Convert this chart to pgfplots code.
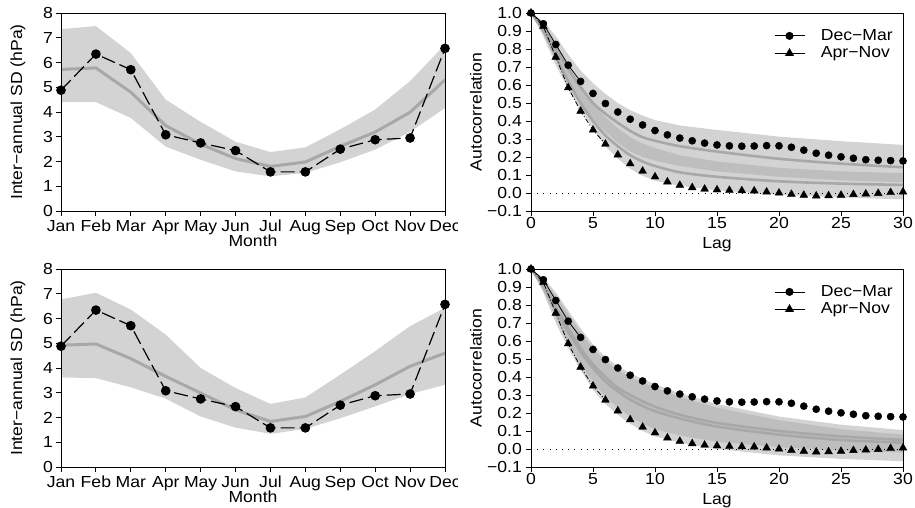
\documentclass[border=0pt]{standalone}
\usepackage{pgfplots}
\pgfplotsset{compat=1.18}
\usepackage{pgfplotstable}
\usepackage{fontspec}
\setmainfont{Liberation Sans}[FakeStretch=1.1]
\definecolor{bandlight}{RGB}{211,211,211}
\definecolor{bandmed}{RGB}{190,190,190}
\definecolor{meanline}{RGB}{168,168,168}
\newcommand{\chartfont}{\fontsize{16pt}{18pt}\selectfont}

\pgfplotstableread{
m M O
1 5.72 4.88
2 5.78 6.34
3 4.80 5.71
4 3.45 3.08
5 2.70 2.75
6 2.12 2.44
7 1.80 1.58
8 1.98 1.58
9 2.61 2.50
10 3.19 2.88
11 3.99 2.95
12 5.30 6.57
}\tabTL

\pgfplotstableread{
m M O
1 4.92 4.88
2 4.97 6.34
3 4.38 5.71
4 3.66 3.08
5 2.99 2.75
6 2.31 2.44
7 1.84 1.58
8 2.04 1.58
9 2.65 2.50
10 3.32 2.88
11 4.07 2.95
12 4.60 6.57
}\tabBL

\pgfplotstableread{
lag DM AN
0 1.000 1.000
1 0.940 0.925
2 0.825 0.755
3 0.710 0.585
4 0.620 0.455
5 0.553 0.350
6 0.497 0.272
7 0.450 0.212
8 0.410 0.163
9 0.378 0.122
10 0.347 0.090
11 0.323 0.062
12 0.305 0.043
13 0.290 0.030
14 0.277 0.022
15 0.267 0.018
16 0.262 0.015
17 0.260 0.013
18 0.261 0.012
19 0.263 0.006
20 0.262 0.000
21 0.254 -0.007
22 0.238 -0.012
23 0.221 -0.016
24 0.210 -0.015
25 0.201 -0.012
26 0.193 -0.008
27 0.185 -0.005
28 0.182 -0.002
29 0.180 0.003
30 0.178 0.006
}\tabObs

\pgfplotstableread{
lag M1 M2
0 1 1
1 0.92 0.90
2 0.80 0.76
3 0.69 0.62
4 0.59 0.50
5 0.50 0.40
6 0.44 0.32
7 0.39 0.26
8 0.345 0.21
9 0.31 0.175
10 0.29 0.15
12 0.26 0.115
15 0.23 0.09
20 0.19 0.065
25 0.163 0.052
30 0.143 0.045
}\tabTR

\pgfplotstableread{
lag M1 M2
0 1 1
1 0.91 0.90
2 0.79 0.77
3 0.67 0.65
4 0.56 0.54
5 0.47 0.45
6 0.40 0.375
7 0.34 0.32
8 0.30 0.275
9 0.265 0.24
10 0.235 0.21
12 0.19 0.17
15 0.145 0.125
20 0.10 0.08
25 0.07 0.05
30 0.05 0.035
}\tabBR

\pgfplotsset{
  panel/.style={
    scale only axis, anchor=south west,
    axis on top, font=\chartfont,
    axis line style={line width=0.9pt},
    every tick/.style={black, line width=0.9pt},
    tick pos=left, tick align=outside, major tick length=5pt,
    xticklabel style={inner sep=0pt, anchor=north, yshift=-4pt, font=\chartfont},
    yticklabel style={inner sep=0pt, anchor=east, xshift=-3pt, font=\chartfont},
    xlabel style={inner sep=0pt, anchor=north, at={(axis description cs:0.5,0)}, yshift=-24pt, font=\chartfont},
  },
  leftpanel/.style={panel, width=384pt, height=198pt,
    xmin=1, xmax=12, ymin=0, ymax=8, clip=false,
    xtick={1,2,3,4,5,6,7,8,9,10,11,12},
    xticklabels={Jan,Feb,Mar,Apr,May,Jun,Jul,Aug,Sep,Oct,Nov,Dec},
    ytick={0,1,2,3,4,5,6,7,8}, yticklabels={0,1,2,3,4,5,6,7,8},
    xlabel={Month}, ylabel={Inter−annual SD (hPa)},
    ylabel style={inner sep=0pt, anchor=center, at={(axis description cs:-0.112,0.5)}, font=\chartfont},
  },
  rightpanel/.style={panel, width=372pt, height=198pt,
    xmin=0, xmax=30, ymin=-0.1, ymax=1.0,
    xtick={0,5,10,15,20,25,30}, xticklabels={0,5,10,15,20,25,30},
    ytick={-0.1,0,0.1,0.2,0.3,0.4,0.5,0.6,0.7,0.8,0.9,1},
    yticklabels={−0.1,0.0,0.1,0.2,0.3,0.4,0.5,0.6,0.7,0.8,0.9,1.0},
    xticklabel style={yshift=3pt},
    yticklabel style={xshift=-1pt},
    xlabel style={yshift=-2pt},
    xlabel={Lag}, ylabel={Autocorrelation},
    ylabel style={inner sep=0pt, anchor=center, at={(axis description cs:-0.148,0.5)}, font=\chartfont},
    legend style={draw=none, fill=none, at={(axis description cs:1,1)}, anchor=north east,
      xshift=-8pt, yshift=-14pt, row sep=0pt, inner sep=0pt, font=\chartfont,
      /tikz/every odd column/.append style={column sep=14pt}},
    legend cell align=left,
    legend image code/.code={\draw[mark repeat=2,mark phase=2,#1] plot coordinates {(0pt,0pt) (15pt,0pt) (30pt,0pt)};},
  },
}

\newcommand{\leftcontent}[2]{%
  \addplot[fill=bandlight, draw=none, forget plot] coordinates {#2} -- cycle;
  \addplot[meanline, line width=3pt, forget plot] table[x=m,y=M]{#1};
  \addplot[black, line width=1.2pt, dash pattern=on 14pt off 5pt, mark=*, mark size=4.2pt, mark options={solid}, forget plot] table[x=m,y=O]{#1};
}

\newcommand{\rightcontent}[3]{%
  \addplot[fill=bandlight, draw=none, forget plot] coordinates {#2} -- cycle;
  \addplot[fill=bandmed, draw=none, forget plot] coordinates {#3} -- cycle;
  \addplot[meanline, line width=2.6pt, smooth, forget plot] table[x=lag,y=M1]{#1};
  \addplot[meanline, line width=2.6pt, smooth, forget plot] table[x=lag,y=M2]{#1};
  \addplot[black, line width=0.8pt, dash pattern=on 1pt off 5.2pt, forget plot] coordinates {(0,0) (30,0)};
  \addplot[black, line width=0.8pt, restrict x to domain=0:4, forget plot] table[x=lag,y=DM]{\tabObs};
  \addplot[black, line width=0.8pt, dash pattern=on 5pt off 2pt on 1pt off 2pt, restrict x to domain=0:6, forget plot] table[x=lag,y=AN]{\tabObs};
  \addplot[black, only marks, mark=*, mark size=3.6pt, forget plot] table[x=lag,y=DM]{\tabObs};
  \addplot[black, only marks, mark=triangle*, mark size=4.5pt, forget plot] table[x=lag,y=AN]{\tabObs};
  \addlegendimage{black, line width=0.8pt, mark=*, mark size=3.6pt}
  \addlegendentry{Dec−Mar}
  \addlegendimage{black, line width=0.8pt, mark=triangle*, mark size=4.5pt}
  \addlegendentry{Apr−Nov}
}

\begin{document}
\chartfont
\begin{tikzpicture}
\path (0,0) rectangle (915pt,508pt);
\begin{scope}
\clip (0,0) rectangle (457.5pt,508pt);
\begin{axis}[leftpanel, at={(61pt,297pt)}]
\leftcontent{\tabTL}{(1,7.35)(2,7.47)(3,6.38)(4,4.50)(5,3.60)(6,2.80)(7,2.38)(8,2.57)(9,3.30)(10,4.10)(11,5.25)(12,6.72)(12,4.16)(11,3.20)(10,2.48)(9,1.97)(8,1.54)(7,1.40)(6,1.60)(5,2.07)(4,2.60)(3,3.76)(2,4.40)(1,4.40)}
\end{axis}
\begin{axis}[leftpanel, at={(61pt,41pt)}]
\leftcontent{\tabBL}{(1,6.77)(2,7.04)(3,6.36)(4,5.35)(5,4.00)(6,3.19)(7,2.55)(8,2.81)(9,3.73)(10,4.68)(11,5.69)(12,6.43)(12,3.32)(11,2.95)(10,2.45)(9,1.97)(8,1.54)(7,1.34)(6,1.59)(5,2.04)(4,2.76)(3,3.22)(2,3.59)(1,3.62)}
\end{axis}
\end{scope}
\begin{axis}[rightpanel, at={(531pt,297pt)}]
\rightcontent{\tabTR}{(0,1)(1,0.955)(2,0.87)(3,0.77)(4,0.68)(5,0.61)(6,0.55)(7,0.50)(8,0.46)(9,0.43)(10,0.405)(12,0.375)(15,0.35)(20,0.313)(25,0.288)(30,0.267)(30,-0.035)(25,-0.025)(20,-0.01)(15,0.015)(12,0.04)(10,0.068)(9,0.095)(8,0.135)(7,0.19)(6,0.26)(5,0.36)(4,0.465)(3,0.575)(2,0.71)(1,0.87)}{(0,1)(1,0.93)(2,0.82)(3,0.70)(4,0.59)(5,0.50)(6,0.42)(7,0.36)(8,0.31)(9,0.275)(10,0.25)(12,0.21)(15,0.175)(20,0.14)(25,0.12)(30,0.11)(30,0.06)(25,0.07)(20,0.09)(15,0.12)(12,0.15)(10,0.18)(9,0.20)(8,0.23)(7,0.28)(6,0.34)(5,0.41)(4,0.50)(3,0.61)(2,0.74)(1,0.89)}
\end{axis}
\begin{axis}[rightpanel, at={(531pt,41pt)}]
\rightcontent{\tabBR}{(0,1)(1,0.95)(2,0.87)(3,0.77)(4,0.67)(5,0.58)(6,0.51)(7,0.46)(8,0.42)(9,0.39)(10,0.36)(12,0.31)(15,0.25)(20,0.18)(25,0.135)(30,0.105)(30,-0.068)(25,-0.055)(20,-0.035)(15,0.0)(12,0.035)(10,0.07)(9,0.10)(8,0.14)(7,0.19)(6,0.25)(5,0.33)(4,0.44)(3,0.56)(2,0.70)(1,0.87)}{(0,1)(1,0.94)(2,0.85)(3,0.75)(4,0.65)(5,0.56)(6,0.49)(7,0.44)(8,0.40)(9,0.37)(10,0.34)(12,0.29)(15,0.23)(20,0.16)(25,0.11)(30,0.08)(30,-0.02)(25,-0.01)(20,0.01)(15,0.04)(12,0.075)(10,0.11)(9,0.14)(8,0.18)(7,0.23)(6,0.29)(5,0.37)(4,0.47)(3,0.59)(2,0.73)(1,0.88)}
\end{axis}
\end{tikzpicture}
\end{document}
